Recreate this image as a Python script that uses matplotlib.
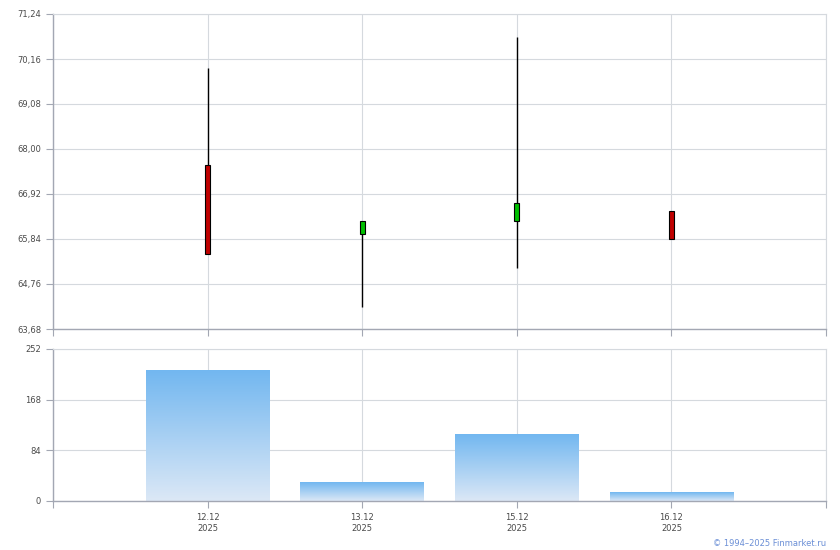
import numpy as np
import matplotlib
matplotlib.use("Agg")
import matplotlib.pyplot as plt
from matplotlib.colors import LinearSegmentedColormap

# данные свечей и объёмов
dates = ["12.12\n2025", "13.12\n2025", "15.12\n2025", "16.12\n2025"]
opens = [67.62, 65.97, 66.26, 66.51]
highs = [69.94, 66.27, 70.68, 66.51]
lows = [65.48, 64.22, 65.14, 65.83]
closes = [65.48, 66.27, 66.70, 65.83]
volumes = [217, 31.5, 109.5, 13.3]

price_ticks = [63.68, 64.76, 65.84, 66.92, 68.00, 69.08, 70.16, 71.24]
volume_ticks = [0, 84, 168, 252]

grid_color = "#d5d9de"
spine_color = "#a3a7b3"
label_color = "#4a4a4a"

fig = plt.figure(figsize=(8.4, 5.5), dpi=100)
ax1 = fig.add_axes([53 / 840, 1 - 329 / 550, 773 / 840, 315 / 550])
ax2 = fig.add_axes([53 / 840, 1 - 501 / 550, 773 / 840, 152 / 550])

x = np.arange(1, len(dates) + 1)


def style_axes(ax):
    ax.set_xlim(0, len(dates) + 1)
    ax.set_xticks(np.arange(0, len(dates) + 2))
    ax.grid(True, color=grid_color, linewidth=0.8)
    ax.set_axisbelow(True)
    for side in ["top", "right"]:
        ax.spines[side].set_color(grid_color)
        ax.spines[side].set_linewidth(0.8)
    for side in ["left", "bottom"]:
        ax.spines[side].set_color(spine_color)
        ax.spines[side].set_linewidth(1)
    ax.tick_params(colors=spine_color, labelcolor=label_color, length=5,
                   width=0.8, labelsize=6)


# свечи
style_axes(ax1)
ax1.set_ylim(price_ticks[0], price_ticks[-1])
ax1.set_yticks(price_ticks)
ax1.set_yticklabels([f"{v:.2f}".replace(".", ",") for v in price_ticks])
ax1.set_xticklabels([])
ax1.vlines(x, lows, highs, color="black", linewidth=1, zorder=3)
for xi, o, c in zip(x, opens, closes):
    color = "#00c000" if c >= o else "#c00000"
    ax1.bar(xi, abs(c - o), bottom=min(o, c), width=0.03, color=color,
            edgecolor="black", linewidth=0.8, zorder=4)

# объёмы с градиентом
style_axes(ax2)
ax2.set_ylim(0, volume_ticks[-1])
ax2.set_yticks(volume_ticks)
labels = [""] + dates + [""]
ax2.set_xticklabels(labels, linespacing=1.3)
cmap = LinearSegmentedColormap.from_list("vol", ["#dce8f6", "#72b7f0"])
grad = np.linspace(0, 1, 256).reshape(-1, 1)
for xi, v in zip(x, volumes):
    ax2.imshow(grad, extent=[xi - 0.4, xi + 0.4, 0, v], origin="lower",
               aspect="auto", cmap=cmap, zorder=2)
ax2.set_xlim(0, len(dates) + 1)
ax2.set_ylim(0, volume_ticks[-1])

fig.text(826 / 840, 1 - 543 / 550, "© 1994–2025 Finmarket.ru", ha="right",
         va="center", fontsize=6, color="#6b8fd6")

plt.savefig("out.png", dpi=100)
